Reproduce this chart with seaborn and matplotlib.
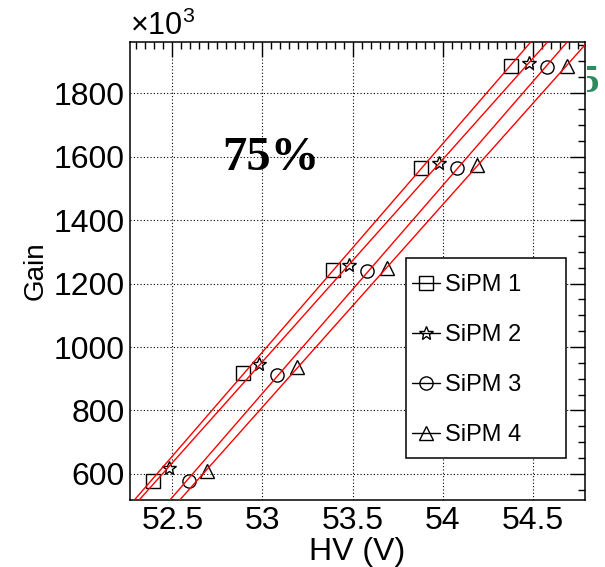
import numpy as np
import pandas as pd
import matplotlib
matplotlib.use("Agg")
import matplotlib.pyplot as plt
from matplotlib.patches import Rectangle
from matplotlib.lines import Line2D
from matplotlib.transforms import Bbox, TransformedBbox
import seaborn as sns

# Gain versus bias voltage for four SiPMs
hv_sipm1 = [52.39, 52.89, 53.39, 53.88, 54.38]
gain_sipm1 = [578, 918, 1242, 1564, 1885]
hv_sipm2 = [52.48, 52.98, 53.48, 53.98, 54.48]
gain_sipm2 = [619, 946, 1258, 1580, 1894]
hv_sipm3 = [52.59, 53.08, 53.58, 54.08, 54.58]
gain_sipm3 = [578, 912, 1239, 1564, 1882]
hv_sipm4 = [52.69, 53.19, 53.69, 54.19, 54.69]
gain_sipm4 = [609, 937, 1249, 1573, 1885]

labels = ["SiPM 1", "SiPM 2", "SiPM 3", "SiPM 4"]
markers = ["s", "*", "o", "^"]
marker_sizes = [9.5, 10.5, 9.5, 9.5]

series = [
    (hv_sipm1, gain_sipm1),
    (hv_sipm2, gain_sipm2),
    (hv_sipm3, gain_sipm3),
    (hv_sipm4, gain_sipm4),
]

sns.set_style("white")
plt.rcParams["font.family"] = ["Liberation Sans", "DejaVu Sans"]
plt.rcParams["mathtext.fontset"] = "custom"
plt.rcParams["mathtext.rm"] = "Liberation Sans"
plt.rcParams["mathtext.it"] = "Liberation Sans"
for key in ["text.color", "axes.labelcolor", "xtick.color", "ytick.color",
            "axes.edgecolor"]:
    plt.rcParams[key] = "black"

fig = plt.figure(figsize=(6.05, 5.67), dpi=100)
ax = fig.add_axes([130 / 605, 1 - 500 / 567, 455 / 605, 458 / 567])

xlim = (52.265, 54.79)
ylim = (518, 1961)
ax.set_xlim(*xlim)
ax.set_ylim(*ylim)

for (hv, gain), lab, mk, ms in zip(series, labels, markers, marker_sizes):
    df = pd.DataFrame({"hv": hv, "gain": gain})
    sns.lineplot(data=df, x="hv", y="gain", ax=ax, linestyle="none",
                 marker=mk, markersize=ms, markerfacecolor="none",
                 markeredgecolor="black", markeredgewidth=1.0,
                 color="black", zorder=3)
    ax.set_xlim(*xlim)
    sns.regplot(data=df, x="hv", y="gain", ax=ax, scatter=False, ci=None,
                truncate=False, color="red",
                line_kws=dict(lw=1.0, zorder=4))

ax.set_xlim(*xlim)
ax.set_ylim(*ylim)

# Axis ticks, ROOT style: inward ticks on all four sides
ax.xaxis.set_major_locator(matplotlib.ticker.MultipleLocator(0.5))
ax.xaxis.set_minor_locator(matplotlib.ticker.MultipleLocator(0.05))
ax.yaxis.set_major_locator(matplotlib.ticker.MultipleLocator(200))
ax.yaxis.set_minor_locator(matplotlib.ticker.MultipleLocator(50))
ax.xaxis.set_major_formatter(matplotlib.ticker.FuncFormatter(
    lambda v, p: f"{v:g}"))
ax.tick_params(which="both", direction="in", top=True, right=True,
               color="black", labelcolor="black", width=1.0)
ax.tick_params(which="major", length=11, labelsize=23)
ax.tick_params(which="minor", length=5)
ax.tick_params(axis="x", which="major", pad=4)
ax.tick_params(axis="y", which="major", pad=4)
for s in ax.spines.values():
    s.set_color("black")
    s.set_linewidth(1.1)

ax.grid(True, which="major", color="black", linestyle=(0, (1, 2)),
        linewidth=0.8)
ax.set_axisbelow(True)

ax.set_xlabel("HV (V)", fontsize=23, color="black")
ax.set_ylabel("Gain", fontsize=20, color="black")
ax.xaxis.set_label_coords(0.5, -0.081)
ax.yaxis.set_label_coords(-0.178, 0.5)

ax.text(0.0, 1.0153, r"$\times10^{3}$", transform=ax.transAxes,
        ha="left", va="baseline", fontsize=22, color="black")

ax.text(0.31, 0.7205, "75%", transform=ax.transAxes, ha="center",
        va="baseline", fontsize=35, fontweight="bold", color="black",
        family=["Liberation Serif", "DejaVu Serif"], zorder=6)

# Legend box
ax.add_patch(Rectangle((0.6066, 0.0917), 0.3516, 0.4367,
                       transform=ax.transAxes, facecolor="white",
                       edgecolor="black", linewidth=1.1, zorder=5))
handles = [Line2D([], [], color="black", lw=1.0, marker=mk, markersize=ms,
                  markerfacecolor="none", markeredgecolor="black",
                  markeredgewidth=1.0)
           for mk, ms in zip(markers, marker_sizes)]
leg = ax.legend(handles, labels, loc="upper left",
                bbox_to_anchor=((412 - 130) / 455, (500 - 274) / 458),
                frameon=False, borderpad=0, borderaxespad=0,
                fontsize=17, handlelength=1.19, handletextpad=0.2,
                labelspacing=1.19)
leg.set_zorder(6)
for t in leg.get_texts():
    t.set_color("black")

# Partly hidden green figure on the right margin
g = fig.text(599 / 605, 1 - 92 / 567, "5", ha="right", va="baseline",
             fontsize=28, fontweight="bold", color="#2f8a5f",
             family=["Liberation Serif", "DejaVu Serif"])
g.set_clip_box(TransformedBbox(Bbox([[587 / 605, 0], [1, 1]]),
                               fig.transFigure))
g.set_clip_on(True)

fig.savefig("out.png", dpi=100)
